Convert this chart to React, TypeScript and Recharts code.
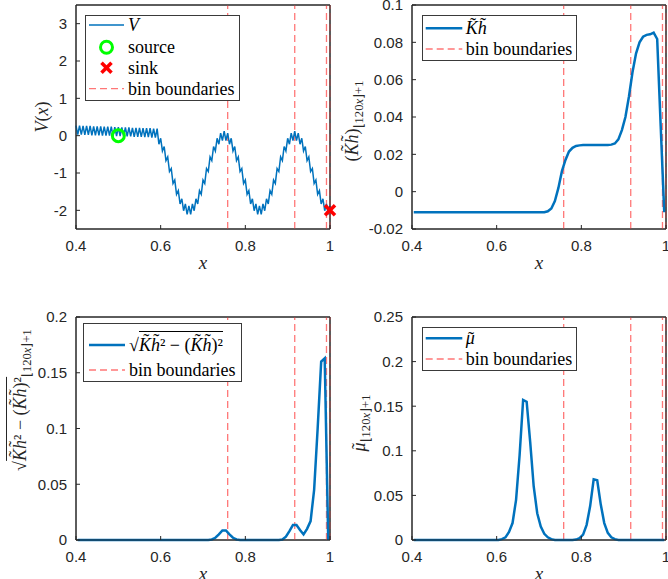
import React from "react";
import { ComposedChart, Line, Scatter, XAxis, YAxis, ReferenceLine, ReferenceArea } from "recharts";

const xTicks = [0.4, 0.6, 0.8, 1];
const binEdges = [0.7583, 0.9167, 0.9917, 1];

// V(x) sampled at half-bin spacing (peaks and troughs of the ripple)
const vStart = 0.4;
const vStep = 1 / 240;
const vValues = [
  0.27, 0.03, 0.27, 0.03, 0.26, 0.02, 0.26, 0.02, 0.26, 0.01, 0.25, 0.01, 0.25, 0.01, 0.25, 0.0,
  0.24, 0.0, 0.24, 0.0, 0.24, -0.01, 0.23, -0.01, 0.23, -0.01, 0.22, -0.02, 0.22, -0.02, 0.22, -0.02,
  0.21, -0.03, 0.21, -0.03, 0.21, -0.03, 0.2, -0.04, 0.2, -0.04, 0.2, -0.05, 0.19, -0.05, 0.19,
  -0.23, -0.07, -0.41, -0.29, -0.67, -0.57, -0.96, -0.88, -1.28, -1.19, -1.57, -1.47, -1.83, -1.69, -2.01, -1.83,
  -2.11, -1.88, -2.11, -1.83, -2.01, -1.69, -1.83, -1.47, -1.57, -1.19, -1.28, -0.88, -0.96, -0.57, -0.67, -0.29,
  -0.41, -0.07, -0.23, 0.07, -0.13, 0.12, -0.13, 0.07,
  -0.23, -0.07, -0.41, -0.29, -0.67, -0.57, -0.96, -0.88, -1.28, -1.19, -1.57, -1.47, -1.83, -1.69, -2.01, -1.83,
  -2.11, -1.88, -2.11, -1.83, -2.01, -1.69, -1.83, -1.47, -1.57, -1.19, -1.28, -0.88, -0.96, -0.57, -0.67, -0.29,
  -0.41, -0.07, -0.23, 0.07, -0.13, 0.12, -0.13, 0.07,
  -0.23, -0.07, -0.41, -0.29, -0.67, -0.57, -0.96, -0.88, -1.28, -1.19, -1.57, -1.47, -1.83, -1.69, -2.01, -1.83,
  -2.11, -1.88,
];
const vTicks = [-2, -1, 0, 1, 2, 3];
const sourcePt = [{ x: 0.5, y: 0 }];
const sinkPt = [{ x: 1, y: -2 }];

// bin centres (j + 0.5) / 120 from 0.4 to 1
const binStart = 0.4 + 1 / 240;
const binStep = 1 / 120;

const khValues = [
  -0.011, -0.011, -0.011, -0.011, -0.011, -0.011, -0.011, -0.011, -0.011, -0.011, -0.011, -0.011,
  -0.011, -0.011, -0.011, -0.011, -0.011, -0.011, -0.011, -0.011, -0.011, -0.011, -0.011, -0.011,
  -0.011, -0.011, -0.011, -0.011, -0.011, -0.011, -0.011, -0.011, -0.011, -0.011, -0.011, -0.011,
  -0.011, -0.011, -0.0105, -0.009, -0.005, 0.002, 0.011, 0.017, 0.0215, 0.0235, 0.0245, 0.0248,
  0.025, 0.025, 0.025, 0.025, 0.025, 0.025, 0.025, 0.025, 0.0252, 0.0258, 0.028, 0.033,
  0.04, 0.051, 0.064, 0.074, 0.08, 0.083, 0.084, 0.0843, 0.0852, 0.0818, 0.035, -0.011,
];
const khTicks = [-0.02, 0, 0.02, 0.04, 0.06, 0.08, 0.1];

const sdValues = [
  0, 0, 0, 0, 0, 0, 0, 0, 0, 0, 0, 0, 0, 0, 0, 0, 0, 0, 0, 0, 0, 0, 0, 0,
  0, 0, 0, 0, 0, 0, 0, 0, 0, 0, 0, 0, 0, 0, 0.0005, 0.002, 0.005, 0.0085, 0.0085, 0.005, 0.002, 0.0005, 0, 0,
  0, 0, 0, 0, 0, 0, 0, 0, 0, 0, 0.0005, 0.003, 0.008, 0.0135, 0.0135, 0.009, 0.005, 0.01, 0.017, 0.045, 0.1, 0.16, 0.163, 0,
];
const sdTicks = [0, 0.05, 0.1, 0.15, 0.2];

const muValues = [
  0, 0, 0, 0, 0, 0, 0, 0, 0, 0, 0, 0, 0, 0, 0, 0, 0, 0, 0, 0, 0, 0, 0, 0,
  0, 0.001, 0.003, 0.009, 0.019, 0.045, 0.095, 0.157, 0.155, 0.11, 0.06, 0.03, 0.015, 0.007, 0.003, 0.001,
  0, 0, 0, 0, 0, 0, 0.0005, 0.002, 0.006, 0.017, 0.038, 0.068, 0.067, 0.04, 0.019, 0.008, 0.003, 0.001,
  0, 0, 0, 0, 0, 0, 0, 0, 0, 0, 0, 0, 0, 0,
];
const muTicks = [0, 0.05, 0.1, 0.15, 0.2, 0.25];

const vData = vValues.map((v, k) => ({ x: vStart + k * vStep, y: v }));
const toBins = (vals: number[]) => vals.map((v, j) => ({ x: binStart + j * binStep, y: v }));
const khData = toBins(khValues);
const sdData = toBins(sdValues);
const muData = toBins(muValues);

const serif = '"Liberation Serif", "Times New Roman", serif';
const sans = '"Liberation Sans", Arial, sans-serif';
const blue = "#0072BD";
const axisCol = "#262626";
const binCol = "#FF7777";

const PW = 254;
const ML = 76;
const MT = 15;
const MR = 12;
const MB = 61;

function Panel({ left, top, h, domain, ticks, children }: any) {
  return (
    <div style={{ position: "absolute", left: left - ML, top: top - MT }}>
      <ComposedChart width={ML + PW + MR} height={MT + h + MB} margin={{ top: MT - 1, right: MR - 1, bottom: 0, left: 0 }}>
        <XAxis
          xAxisId="b" dataKey="x" type="number" domain={[0.4, 1]} ticks={xTicks} interval={0}
          height={MB} tickSize={-4} tickMargin={15} stroke={axisCol}
          tick={{ fill: axisCol, fontSize: 15, fontFamily: sans }} tickFormatter={(v: number) => String(v)}
        />
        <XAxis
          xAxisId="t" orientation="top" dataKey="x" type="number" domain={[0.4, 1]} ticks={xTicks}
          interval={0} height={1} tickSize={-4} tick={false} stroke={axisCol}
        />
        <YAxis
          yAxisId="l" type="number" domain={domain} ticks={ticks} interval={0}
          width={ML} tickSize={-4} tickMargin={13} stroke={axisCol}
          tick={{ fill: axisCol, fontSize: 15, fontFamily: sans }} tickFormatter={(v: number) => String(v)}
        />
        <YAxis
          yAxisId="r" orientation="right" type="number" domain={domain} ticks={ticks} interval={0}
          width={1} tickSize={-4} tick={false} stroke={axisCol}
        />
        <ReferenceArea
          xAxisId="b" yAxisId="l" x1={0.4} x2={1} y1={domain[0]} y2={domain[1]}
          fill="none" stroke={axisCol} strokeWidth={1} ifOverflow="visible"
        />
        {children}
      </ComposedChart>
    </div>
  );
}

const binLines = binEdges.map((b) => (
  <ReferenceLine key={"bin" + b} xAxisId="b" yAxisId="l" x={b} stroke={binCol} strokeWidth={1.3} strokeDasharray="7 4" />
));

function series(data: any[], width: number) {
  return (
    <Line
      key="s" xAxisId="b" yAxisId="l" data={data} dataKey="y" type="linear" stroke={blue}
      strokeWidth={width} dot={false} activeDot={false} isAnimationActive={false}
    />
  );
}

const It = ({ children }: any) => <span style={{ fontStyle: "italic" }}>{children}</span>;

function Tl({ c, lift = "-0.2em", shift = "0.15em" }: any) {
  return (
    <span style={{ position: "relative", display: "inline-block", fontStyle: "italic" }}>
      {c}
      <span style={{ position: "absolute", left: shift, right: 0, top: lift, textAlign: "center", fontStyle: "normal" }}>˜</span>
    </span>
  );
}

const KH = () => (
  <>
    <Tl c="K" />
    <Tl c="h" shift="0.08em" />
  </>
);

const Sub = () => (
  <span style={{ fontSize: "0.7em", position: "relative", top: "0.4em" }}>
    ⌊120<It>x</It>⌋+1
  </span>
);

const Sqrt = () => (
  <span style={{ whiteSpace: "nowrap" }}>
    <span style={{ fontStyle: "normal" }}>√</span>
    <span style={{ borderTop: "1px solid currentColor", paddingTop: 3 }}>
      <KH />² − (<KH />)²
    </span>
  </span>
);

function Rot({ x, y, children }: any) {
  return (
    <div
      style={{
        position: "absolute", left: x, top: y, transform: "translate(-50%,-50%) rotate(-90deg)",
        whiteSpace: "nowrap", fontFamily: serif, fontSize: 18, color: axisCol, lineHeight: 1,
      }}
    >
      {children}
    </div>
  );
}

function XLab({ x, y }: any) {
  return (
    <div style={{ position: "absolute", left: x, top: y, transform: "translate(-50%,-50%)", fontFamily: serif, fontSize: 19, fontStyle: "italic", color: axisCol, lineHeight: 1 }}>
      x
    </div>
  );
}

function LegendBox({ left, top, width, height, rows, textLeft, sampleX }: any) {
  return (
    <div style={{ position: "absolute", left, top, width, height, border: "1px solid #3a3a3a", background: "#fff", boxSizing: "border-box" }}>
      <svg width={width} height={height} style={{ position: "absolute", left: -1, top: -1 }}>
        {rows.map((r: any, i: number) => {
          const [a, b] = sampleX;
          const cx = (a + b) / 2;
          if (r.kind === "line")
            return <line key={i} x1={a} x2={b} y1={r.y} y2={r.y} stroke={blue} strokeWidth={r.w} />;
          if (r.kind === "dash")
            return <line key={i} x1={a} x2={b} y1={r.y} y2={r.y} stroke={binCol} strokeWidth={1.3} strokeDasharray="7 4" />;
          if (r.kind === "circle")
            return <circle key={i} cx={cx} cy={r.y} r={6} fill="none" stroke="#00FF00" strokeWidth={3} />;
          return (
            <g key={i} stroke="#FF0000" strokeWidth={3.5}>
              <line x1={cx - 5} y1={r.y - 5} x2={cx + 5} y2={r.y + 5} />
              <line x1={cx - 5} y1={r.y + 5} x2={cx + 5} y2={r.y - 5} />
            </g>
          );
        })}
      </svg>
      {rows.map((r: any, i: number) => (
        <div
          key={"t" + i}
          style={{
            position: "absolute", left: textLeft, top: r.y - 1, transform: "translateY(-50%)",
            fontFamily: serif, fontSize: 18, lineHeight: 1, whiteSpace: "nowrap", color: "#000",
          }}
        >
          {r.text}
        </div>
      ))}
    </div>
  );
}

export default function App() {
  return (
    <div style={{ position: "absolute", left: 0, top: 0, width: 668, height: 579, overflow: "hidden", background: "#fff" }}>
      <Panel left={76} top={5} h={224} domain={[-2.5, 3.5]} ticks={vTicks}>
        {binLines}
        {series(vData, 1.5)}
        <Scatter
          key="src" xAxisId="b" yAxisId="l" data={sourcePt} dataKey="y" isAnimationActive={false}
          shape={(p: any) => <circle cx={p.cx} cy={p.cy} r={6} fill="none" stroke="#00FF00" strokeWidth={3} />}
        />
        <Scatter
          key="snk" xAxisId="b" yAxisId="l" data={sinkPt} dataKey="y" isAnimationActive={false}
          shape={(p: any) => (
            <g stroke="#FF0000" strokeWidth={3.5}>
              <line x1={p.cx - 5} y1={p.cy - 5} x2={p.cx + 5} y2={p.cy + 5} />
              <line x1={p.cx - 5} y1={p.cy + 5} x2={p.cx + 5} y2={p.cy - 5} />
            </g>
          )}
        />
      </Panel>
      <Panel left={412} top={5} h={224} domain={[-0.02, 0.1]} ticks={khTicks}>
        {binLines}
        {series(khData, 2.5)}
      </Panel>
      <Panel left={76} top={317} h={223} domain={[0, 0.2]} ticks={sdTicks}>
        {binLines}
        {series(sdData, 2.5)}
      </Panel>
      <Panel left={412} top={317} h={223} domain={[0, 0.25]} ticks={muTicks}>
        {binLines}
        {series(muData, 2.5)}
      </Panel>

      <Rot x={42} y={117}>
        <It>V</It>(<It>x</It>)
      </Rot>
      <Rot x={352} y={121}>
        (<KH />)
        <Sub />
      </Rot>
      <Rot x={20} y={400}>
        <Sqrt />
        <Sub />
      </Rot>
      <Rot x={359} y={423}>
        <Tl c="μ" lift="0.02em" shift="0.1em" />
        <Sub />
      </Rot>

      <XLab x={203} y={262} />
      <XLab x={539} y={262} />
      <XLab x={203} y={573} />
      <XLab x={539} y={573} />

      <LegendBox
        left={85} top={15} width={155} height={86} textLeft={42} sampleX={[4, 39]}
        rows={[
          { kind: "line", w: 1.5, y: 10, text: <It>V</It> },
          { kind: "circle", y: 32.3, text: "source" },
          { kind: "cross", y: 52.7, text: "sink" },
          { kind: "dash", y: 73.7, text: "bin boundaries" },
        ]}
      />
      <LegendBox
        left={422} top={15} width={155} height={46} textLeft={42.7} sampleX={[3.7, 40.3]}
        rows={[
          { kind: "line", w: 2.5, y: 13.3, text: <KH /> },
          { kind: "dash", y: 34, text: "bin boundaries" },
        ]}
      />
      <LegendBox
        left={83} top={323} width={159} height={59} textLeft={45} sampleX={[6, 42]}
        rows={[
          { kind: "line", w: 2.5, y: 22, text: <Sqrt /> },
          { kind: "dash", y: 47, text: "bin boundaries" },
        ]}
      />
      <LegendBox
        left={422} top={327} width={155} height={44} textLeft={42.7} sampleX={[3.7, 40.3]}
        rows={[
          { kind: "line", w: 2.5, y: 11.3, text: <Tl c="μ" lift="0.02em" shift="0.1em" /> },
          { kind: "dash", y: 32, text: "bin boundaries" },
        ]}
      />
    </div>
  );
}
